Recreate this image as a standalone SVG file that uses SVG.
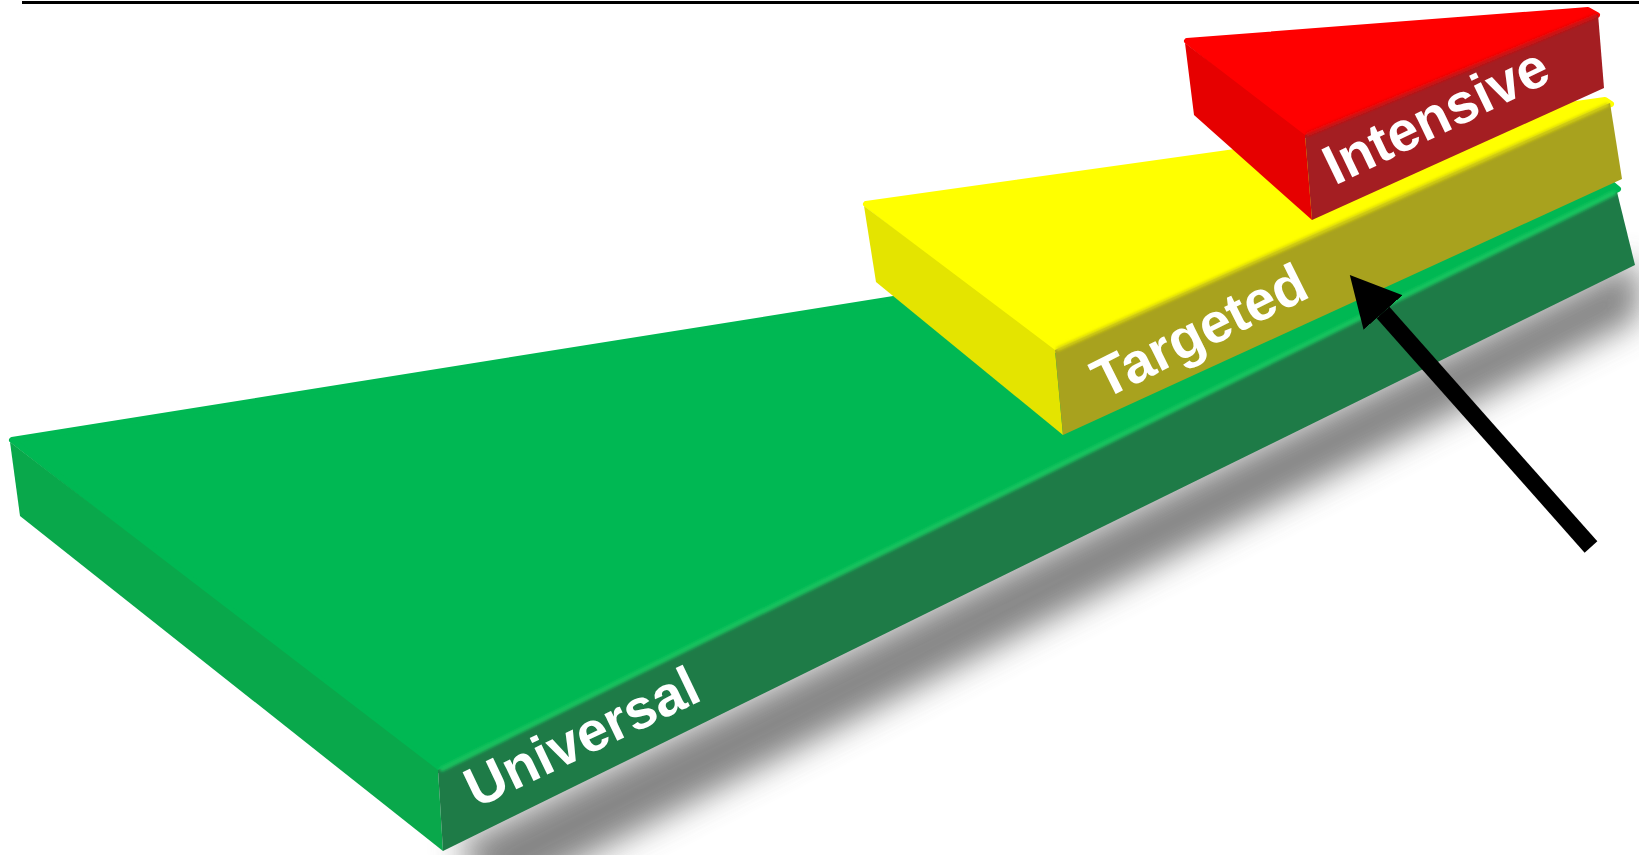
<svg xmlns="http://www.w3.org/2000/svg" width="1639" height="855" viewBox="0 0 1639 855">
<style>
.lbl{font-family:"Liberation Sans",Arial,sans-serif;font-weight:bold;font-size:56px;fill:#ffffff;text-anchor:middle}
.g-top{fill:#00b853;stroke:#00b853}
.g-side{fill:#09a84b}
.g-front{fill:#1e7b47}
.y-top{fill:#ffff00;stroke:#ffff00}
.y-side{fill:#e4e400}
.y-front{fill:#a8a21e}
.r-top{fill:#ff0000;stroke:#ff0000}
.r-side{fill:#e60000}
.r-front{fill:#a41e22}
.round{stroke-width:6;stroke-linejoin:round}
.bevel{fill:none;stroke-linecap:round}
</style>
<defs>
<filter id="blur" x="-20%" y="-50%" width="140%" height="200%"><feGaussianBlur stdDeviation="16"/></filter>
<filter id="soft" x="-5%" y="-20%" width="110%" height="140%"><feGaussianBlur stdDeviation="1.5"/></filter>
<marker id="ah" markerUnits="userSpaceOnUse" markerWidth="50" markerHeight="52" viewBox="0 0 50 52" refX="0" refY="26" orient="auto"><path d="M0,0 L50,26 L0,52 z" fill="#000"/></marker>
</defs>
<rect width="1639" height="855" fill="#ffffff"/>
<line x1="22" y1="2.5" x2="1639" y2="2.5" stroke="#000" stroke-width="3"/>
<g id="shadow">
<polygon points="455,846 1630,262 1639,270 1639,318 500,900" fill="#666" opacity="0.8" filter="url(#blur)"/>
</g>
<g id="universal">
<polygon class="g-top round" points="12,440 1612,184 1618,189 438,770"/>
<polygon class="g-side" points="10,442 438,770 443,851 20,516"/>
<polygon class="g-front" points="438,770 1617,192 1635,265 443,851"/>
<line class="bevel" x1="442" y1="769" x2="1614" y2="193" stroke="#12c45e" stroke-width="5" filter="url(#soft)"/>
<text class="lbl" transform="translate(590,754) rotate(-25.6)">Universal</text>
</g>
<g id="targeted">
<polygon class="y-top round" points="866,204 1605,100 1611,104 1055,350"/>
<polygon class="y-side" points="864,206 1055,350 1063,435 876,282"/>
<polygon class="y-front" points="1055,350 1610,103 1622,179 1063,435"/>
<line class="bevel" x1="1058" y1="349" x2="1607" y2="105" stroke="#d6d20e" stroke-width="4" filter="url(#soft)"/>
<text class="lbl" transform="translate(1208,348) rotate(-26.5)">Targeted</text>
</g>
<g id="intensive">
<polygon class="r-top round" points="1187,41 1588,10 1597,15 1305,135"/>
<polygon class="r-side" points="1185,43 1305,135 1312,220 1194,115"/>
<polygon class="r-front" points="1305,135 1598,14 1604,88 1312,220"/>
<line class="bevel" x1="1308" y1="134" x2="1595" y2="16" stroke="#d81010" stroke-width="4" filter="url(#soft)"/>
<text class="lbl" transform="translate(1444,133) rotate(-25.7)">Intensive</text>
</g>
<g id="connectors">
<line x1="1591" y1="547" x2="1383" y2="312.5" stroke="#000" stroke-width="17" marker-end="url(#ah)"/>
</g>
</svg>
